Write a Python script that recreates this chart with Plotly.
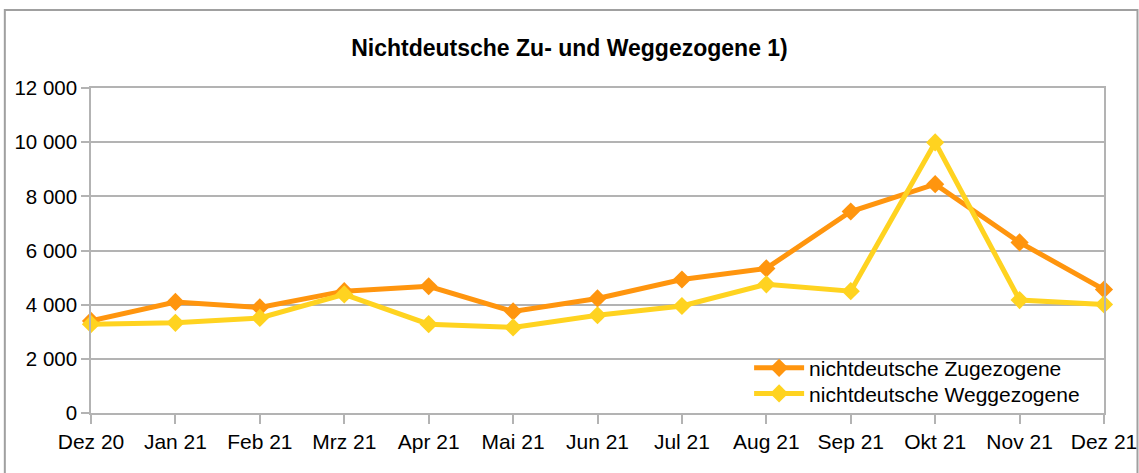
import plotly.graph_objects as go

categories = ["Dez 20", "Jan 21", "Feb 21", "Mrz 21", "Apr 21", "Mai 21", "Jun 21",
              "Jul 21", "Aug 21", "Sep 21", "Okt 21", "Nov 21", "Dez 21"]
zugezogene = [3400, 4100, 3900, 4500, 4680, 3750, 4230, 4930, 5340, 7440, 8450, 6300, 4560]
weggezogene = [3280, 3330, 3510, 4380, 3280, 3160, 3610, 3950, 4750, 4500, 9990, 4170, 4010]
y_ticks = [0, 2000, 4000, 6000, 8000, 10000, 12000]

ORANGE = "#ff950e"
YELLOW = "#ffd320"
GRID = "#b3b3b3"
FONT = "Liberation Sans, Arial, sans-serif"

x_idx = list(range(len(categories)))

fig = go.Figure()
fig.add_trace(go.Scatter(
    x=x_idx, y=zugezogene, mode="lines+markers", name="nichtdeutsche Zugezogene",
    line=dict(color=ORANGE, width=5), marker=dict(symbol="diamond", size=14, color=ORANGE),
    legend="legend", cliponaxis=False,
))
fig.add_trace(go.Scatter(
    x=x_idx, y=weggezogene, mode="lines+markers", name="nichtdeutsche Weggezogene",
    line=dict(color=YELLOW, width=5), marker=dict(symbol="diamond", size=14, color=YELLOW),
    legend="legend2", cliponaxis=False,
))

L, R, T, B = 90.7, 35, 88.3, 60.3
W, H = 1139, 473
pw = W - L - R
ph = H - T - B

def px_to_paper_x(px):
    return (px - L) / pw

def py_to_paper_y(py):
    return (H - B - py) / ph

legend_common = dict(x=px_to_paper_x(749), xanchor="left", yanchor="middle",
                     bgcolor="rgba(0,0,0,0)", borderwidth=0,
                     font=dict(family=FONT, size=21, color="black"),
                     itemwidth=50)

fig.update_layout(
    width=W, height=H, autosize=False,
    margin=dict(l=L, r=R, t=T, b=B, pad=0, autoexpand=False),
    paper_bgcolor="white", plot_bgcolor="white",
    separators=", ",
    font=dict(family=FONT, size=20, color="black"),
    title=dict(text="<b>Nichtdeutsche Zu- und Weggezogene 1)</b>",
               font=dict(family=FONT, size=23, color="black"),
               x=0.5, xanchor="center", xref="container",
               y=1 - 48 / H, yanchor="middle", yref="container"),
    showlegend=True,
    legend=dict(y=py_to_paper_y(368), **legend_common),
    legend2=dict(y=py_to_paper_y(393.5), **legend_common),
    xaxis=dict(
        range=[0, len(categories) - 1], tickvals=x_idx, ticktext=categories,
        showgrid=False, zeroline=False, automargin=False,
        showline=True, linecolor=GRID, linewidth=1.5, mirror=True,
        ticks="outside", ticklen=9, tickcolor=GRID, tickwidth=1.5,
        tickfont=dict(family=FONT, size=21, color="black"),
    ),
    yaxis=dict(
        range=[0, 12000], tickvals=y_ticks, tickformat=",d",
        showgrid=True, gridcolor=GRID, gridwidth=1.5, zeroline=False, automargin=False,
        showline=True, linecolor=GRID, linewidth=1.5, mirror=True,
        ticks="outside", ticklen=8, tickcolor=GRID, tickwidth=1.5,
        tickfont=dict(family=FONT, size=20.5, color="black"),
    ),
    shapes=[dict(type="rect", xref="paper", yref="paper",
                 x0=px_to_paper_x(4.5), x1=px_to_paper_x(1137.5),
                 y0=py_to_paper_y(480), y1=py_to_paper_y(10.5),
                 line=dict(color="#a0a0a0", width=2), fillcolor="rgba(0,0,0,0)",
                 layer="below")],
)

fig.write_html("out.html", config={"displayModeBar": False},
               post_script="document.body.style.margin='0';document.body.style.overflow='hidden';")
